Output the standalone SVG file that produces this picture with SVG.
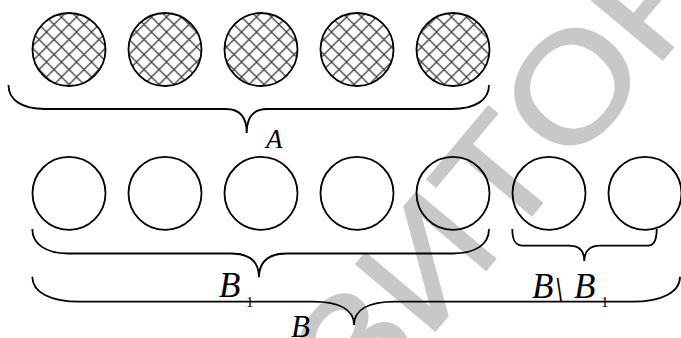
<svg xmlns="http://www.w3.org/2000/svg" width="681" height="338" viewBox="0 0 681 338">
<defs>
<pattern id="hatch" patternUnits="userSpaceOnUse" width="15" height="15" x="1.5" y="2">
<path d="M-2,-2 L17,17 M17,-2 L-2,17" stroke="#404040" stroke-width="1.3" fill="none"/>
</pattern>
</defs>
<style>
.c{stroke:#000;stroke-width:1.8;}
.h{fill:url(#hatch);}
.e{fill:none;}
.br{fill:none;stroke:#000;stroke-width:1.8;}
.lb{font-family:"Liberation Serif","Times New Roman",serif;font-style:italic;fill:#000;}
.sub{font-family:"Liberation Serif","Times New Roman",serif;fill:#000;font-size:15px;}
.wm{font-family:"Liberation Sans",Arial,sans-serif;font-size:150px;fill:#c8c8c8;stroke:#c8c8c8;stroke-width:2;}
</style>
<rect width="681" height="338" fill="#fff"/>
<g id="watermark" transform="translate(570,170) rotate(-50) scale(1.12,1)">
<text class="wm" x="0" y="0" text-anchor="end">ЗИТ</text>
<text class="wm" x="0" y="0">ОР</text>
</g>
<g id="setA">
<g id="a1"><circle class="c h" cx="69" cy="49.5" r="36.5"/></g>
<g id="a2"><circle class="c h" cx="165" cy="49.5" r="36.5"/></g>
<g id="a3"><circle class="c h" cx="261" cy="49.5" r="36.5"/></g>
<g id="a4"><circle class="c h" cx="357" cy="49.5" r="36.5"/></g>
<g id="a5"><circle class="c h" cx="453" cy="49.5" r="36.5"/></g>
</g>
<g id="setB">
<g id="b1"><circle class="c e" cx="69" cy="193.3" r="36.5"/></g>
<g id="b2"><circle class="c e" cx="165" cy="193.3" r="36.5"/></g>
<g id="b3"><circle class="c e" cx="261" cy="193.3" r="36.5"/></g>
<g id="b4"><circle class="c e" cx="357" cy="193.3" r="36.5"/></g>
<g id="b5"><circle class="c e" cx="453" cy="193.3" r="36.5"/></g>
<g id="b6"><circle class="c e" cx="549" cy="193.3" r="36.5"/></g>
<g id="b7"><circle class="c e" cx="645" cy="193.3" r="36.5"/></g>
</g>
<g id="connectors">
<path class="br" d="M8.5,85 C8.5,100 22,109 45,109 L226,109 C240,109 246.7,118 246.7,133 C246.7,118 253,109 267,109 L452,109 C475,109 489,100 489,85"/>
<path class="br" d="M32.3,229 C32.3,244 46,253.5 68,253.5 L231,253.5 C250,253.5 259,262 259,277.3 C259,262 268,253.5 287,253.5 L453,253.5 C476,253.5 489,244 489,229"/>
<path class="br" d="M512.3,229 C512.3,240 515,245.7 523,245.7 L569,245.7 C579,245.7 584.3,251 584.3,261 C584.3,251 590,245.7 600,245.7 L648,245.7 C654,245.7 656.7,240 656.7,229"/>
<path class="br" d="M32.3,276.7 C32.3,292 50,301.7 80,301.7 L313,301.7 C340,301.7 354,310 354,325 C354,310 368,301.7 395,301.7 L632,301.7 C662,301.7 680,292 680,276.7"/>
</g>
<g id="labels">
<g id="labelA"><text class="lb" x="266" y="147.5" font-size="27">A</text></g>
<g id="labelB1"><text class="lb" x="219" y="297" font-size="35">B</text><text class="sub" x="246" y="306.5">1</text></g>
<g id="labelBminusB1"><text class="lb" x="532" y="297.5" font-size="35">B</text><text class="lb" x="554" y="302" font-size="35" font-style="normal">\</text><text class="lb" x="574" y="297.5" font-size="35">B</text><text class="sub" x="601" y="306.5">1</text></g>
<g id="labelB"><text class="lb" x="291" y="337" font-size="31">B</text></g>
</g>
</svg>
